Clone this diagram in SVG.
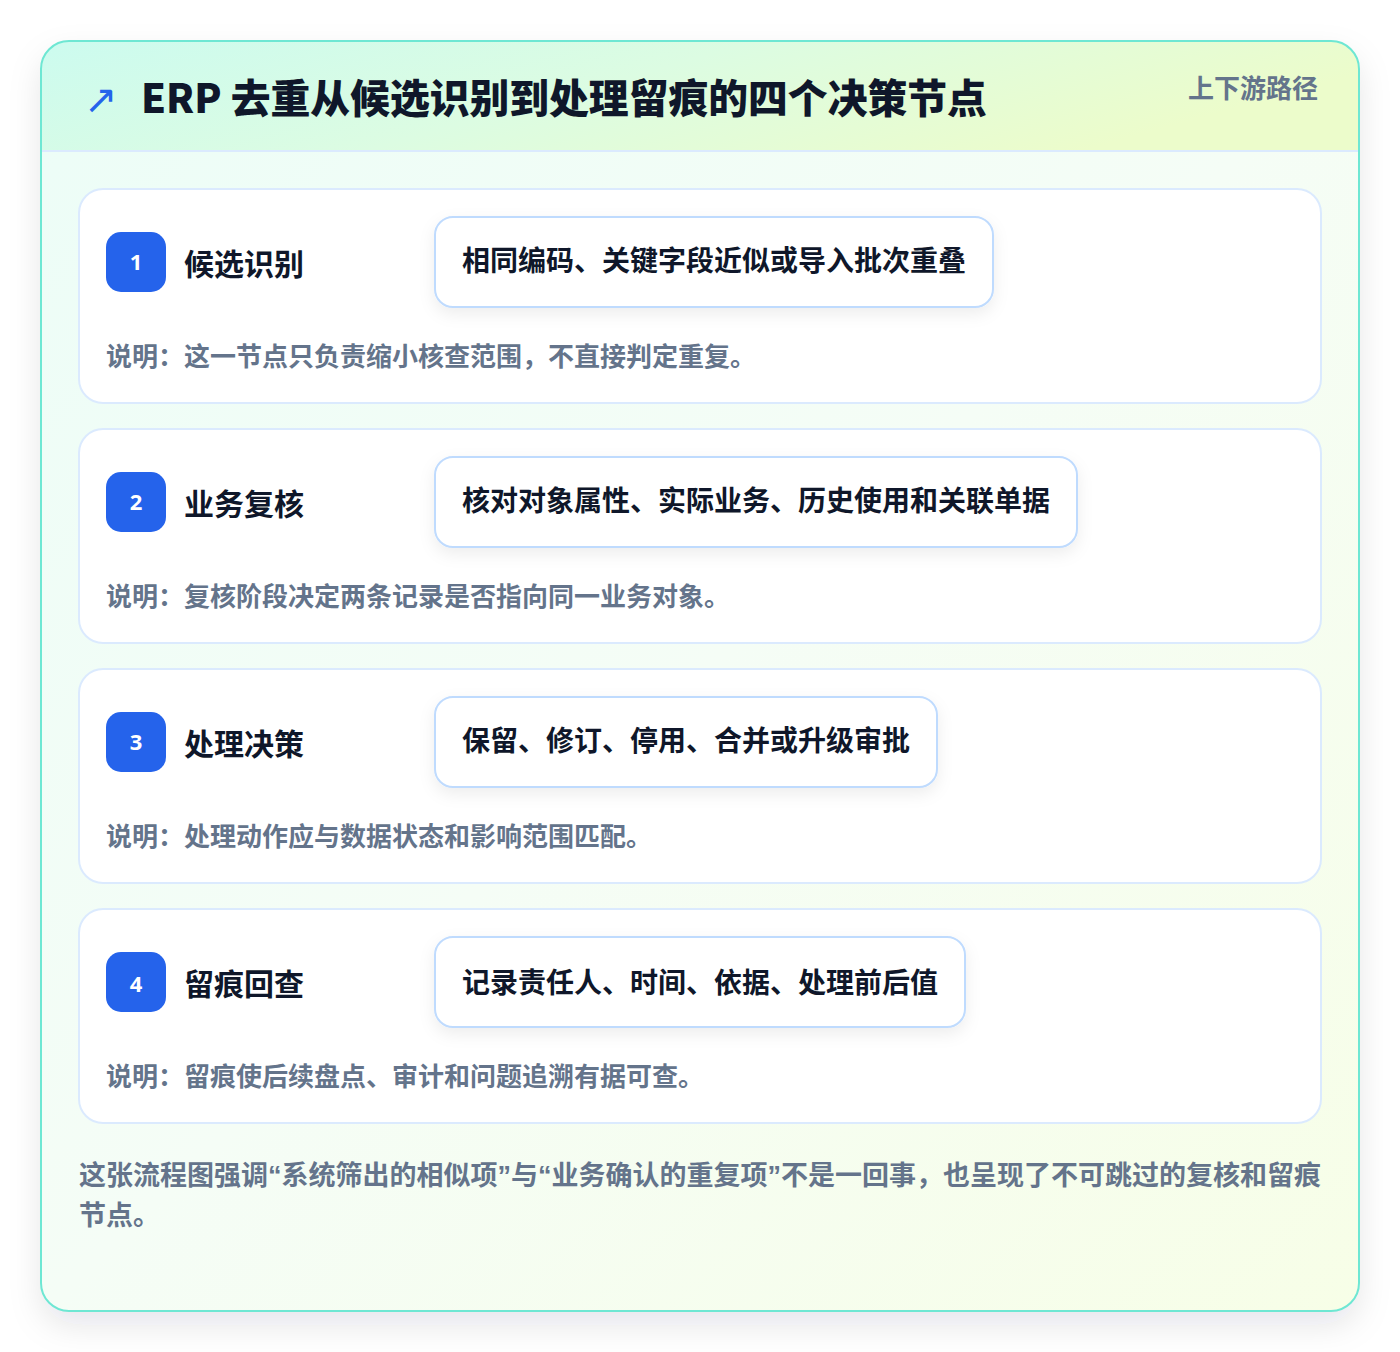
<svg xmlns="http://www.w3.org/2000/svg" width="1400" height="1352" viewBox="0 0 1400 1352">
<defs>
<linearGradient id="cardBg" x1="0" y1="0" x2="1" y2="1">
<stop offset="0" stop-color="#ecfdf7"/>
<stop offset="0.5" stop-color="#f5fdf6"/>
<stop offset="1" stop-color="#f7fee7"/>
</linearGradient>
<linearGradient id="headBg" x1="0" y1="0" x2="1" y2="0.3">
<stop offset="0" stop-color="#ccfbef"/>
<stop offset="0.5" stop-color="#dcfce2"/>
<stop offset="1" stop-color="#ecfccb"/>
</linearGradient>
<filter id="outerShadow" x="-10%" y="-10%" width="120%" height="125%">
<feDropShadow dx="0" dy="14" stdDeviation="16" flood-color="#0f172a" flood-opacity="0.10"/>
</filter>
<filter id="pillShadow" x="-10%" y="-30%" width="120%" height="170%">
<feDropShadow dx="0" dy="6" stdDeviation="8" flood-color="#0f172a" flood-opacity="0.07"/>
</filter>
<clipPath id="outerClip"><rect x="41" y="41" width="1318" height="1270" rx="28"/></clipPath>
</defs>
<style>
.cjk{font-family:"Noto Sans CJK SC","Noto Sans",sans-serif;font-weight:700}
.title{font-size:39.8px;fill:#0f172a;font-weight:900}
.meta{font-size:26px;fill:#64748b}
.card{fill:#ffffff;stroke:#dbeafe;stroke-width:2}
.badge{fill:#2563eb}
.num{font-family:"Noto Sans","DejaVu Sans",sans-serif;font-weight:700;font-size:22px;fill:#ffffff}
.label{font-size:30px;fill:#0f172a}
.pill{fill:#ffffff;stroke:#bfdbfe;stroke-width:2}
.pilltext{font-size:28px;fill:#0f172a}
.desc{font-size:26px;fill:#64748b}
.foot{font-size:27px;fill:#64748b}
.q{font-family:"Liberation Sans",sans-serif;font-weight:700}
</style>
<rect x="0" y="0" width="1400" height="1352" fill="#ffffff"/>
<g id="frame">
<rect x="41" y="41" width="1318" height="1270" rx="28" fill="url(#cardBg)" filter="url(#outerShadow)"/>
<g clip-path="url(#outerClip)">
<rect x="41" y="41" width="1318" height="110" fill="url(#headBg)"/>
<line x1="41" y1="151" x2="1359" y2="151" stroke="#dbeafe" stroke-width="2"/>
</g>
<rect x="41" y="41" width="1318" height="1270" rx="28" fill="none" stroke="#6ee7d3" stroke-width="2"/>
</g>
<g id="header">
<text x="84" y="113" font-family="DejaVu Sans,sans-serif" font-size="40" fill="#2563eb">↗</text>
<text x="141" y="113" class="cjk title">ERP 去重从候选识别到处理留痕的四个决策节点</text>
<text x="1318" y="98" text-anchor="end" class="cjk meta">上下游路径</text>
</g>
<g id="connectors"></g>
<g id="node1">
<rect x="79" y="189" width="1242" height="214" rx="24" class="card"/>
<rect x="106" y="232" width="60" height="60" rx="15" class="badge"/>
<text x="136" y="270" text-anchor="middle" class="num">1</text>
<text x="184" y="275" class="cjk label">候选识别</text>
<rect x="435" y="217" width="558" height="90" rx="18" class="pill" filter="url(#pillShadow)"/>
<text x="462" y="271" class="cjk pilltext">相同编码、关键字段近似或导入批次重叠</text>
<text x="106" y="366" class="cjk desc">说明：这一节点只负责缩小核查范围，不直接判定重复。</text>
</g>
<g id="node2">
<rect x="79" y="429" width="1242" height="214" rx="24" class="card"/>
<rect x="106" y="472" width="60" height="60" rx="15" class="badge"/>
<text x="136" y="510" text-anchor="middle" class="num">2</text>
<text x="184" y="515" class="cjk label">业务复核</text>
<rect x="435" y="457" width="642" height="90" rx="18" class="pill" filter="url(#pillShadow)"/>
<text x="462" y="511" class="cjk pilltext">核对对象属性、实际业务、历史使用和关联单据</text>
<text x="106" y="606" class="cjk desc">说明：复核阶段决定两条记录是否指向同一业务对象。</text>
</g>
<g id="node3">
<rect x="79" y="669" width="1242" height="214" rx="24" class="card"/>
<rect x="106" y="712" width="60" height="60" rx="15" class="badge"/>
<text x="136" y="750" text-anchor="middle" class="num">3</text>
<text x="184" y="755" class="cjk label">处理决策</text>
<rect x="435" y="697" width="502" height="90" rx="18" class="pill" filter="url(#pillShadow)"/>
<text x="462" y="751" class="cjk pilltext">保留、修订、停用、合并或升级审批</text>
<text x="106" y="846" class="cjk desc">说明：处理动作应与数据状态和影响范围匹配。</text>
</g>
<g id="node4">
<rect x="79" y="909" width="1242" height="214" rx="24" class="card"/>
<rect x="106" y="952" width="60" height="60" rx="15" class="badge"/>
<text x="136" y="992" text-anchor="middle" class="num">4</text>
<text x="184" y="995" class="cjk label">留痕回查</text>
<rect x="435" y="937" width="530" height="90" rx="18" class="pill" filter="url(#pillShadow)"/>
<text x="462" y="993" class="cjk pilltext">记录责任人、时间、依据、处理前后值</text>
<text x="106" y="1086" class="cjk desc">说明：留痕使后续盘点、审计和问题追溯有据可查。</text>
</g>
<g id="footer">
<text x="79" y="1185" class="cjk foot">这张流程图强调<tspan class="q">“</tspan>系统筛出的相似项<tspan class="q">”</tspan>与<tspan class="q">“</tspan>业务确认的重复项<tspan class="q">”</tspan>不是一回事，也呈现了不可跳过的复核和留痕</text>
<text x="79" y="1225" class="cjk foot">节点。</text>
</g>
</svg>
